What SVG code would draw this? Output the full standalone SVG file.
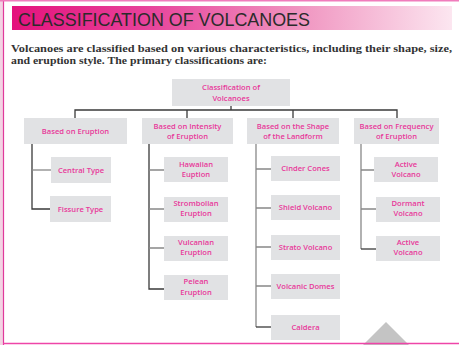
<svg xmlns="http://www.w3.org/2000/svg" width="459" height="345" viewBox="0 0 459 345">
<defs>
<linearGradient id="tg" x1="0" y1="0" x2="1" y2="0">
<stop offset="0" stop-color="#e4127c"/>
<stop offset="0.3" stop-color="#e7419a"/>
<stop offset="0.65" stop-color="#f094c0"/>
<stop offset="1" stop-color="#fce6f0"/>
</linearGradient>
<style>
.box{fill:#e1e2e4}
.t{font-family:"Open Sans","Liberation Sans",sans-serif;font-size:7.6px;font-weight:600;fill:#e8389a;text-anchor:middle}
.ln{fill:none;stroke:#3a3a3a;stroke-width:1.3}
.st{fill:none;stroke:#888;stroke-width:1.3}
</style>
</defs>
<rect x="0" y="0" width="459" height="345" fill="#fff"/>
<rect x="0" y="0" width="3" height="345" fill="#f3d3e3"/>
<line x1="3.5" y1="0" x2="3.5" y2="345" stroke="#e0399b" stroke-width="1.2"/>
<line x1="0" y1="0.8" x2="459" y2="0.8" stroke="#f07cbc" stroke-width="1.5"/>
<polygon points="386,322 409,345 386,368 363,345" fill="#c4c4c4"/>
<line x1="3" y1="343.5" x2="459" y2="343.5" stroke="#ee45a8" stroke-width="1.4"/>
<rect x="12" y="6" width="440" height="24" fill="url(#tg)"/>
<text x="18" y="25.5" font-family="Liberation Sans, sans-serif" font-size="18.5" fill="#2b2b2b" textLength="292" lengthAdjust="spacingAndGlyphs">CLASSIFICATION OF VOLCANOES</text>
<text x="11" y="52" font-family="Liberation Serif, serif" font-weight="bold" font-size="10.5" fill="#333" textLength="441" lengthAdjust="spacingAndGlyphs">Volcanoes are classified based on various characteristics, including their shape, size,</text>
<text x="11" y="64" font-family="Liberation Serif, serif" font-weight="bold" font-size="10.5" fill="#333" textLength="256" lengthAdjust="spacingAndGlyphs">and eruption style. The primary classifications are:</text>
<g id="connectors">
<path class="ln" d="M231,106V110M75,118V110H397V118M187,110V118M293,110V118"/>
<path class="ln" d="M32,144V209H50"/>
<path class="st" d="M32,170H51"/>
<path class="ln" d="M149,144V289H164"/>
<path class="st" d="M149,170H164M149,209H164M149,248H164"/>
<path class="st" d="M256,144V327"/>
<path class="ln" d="M256,327H271"/>
<path class="st" d="M256,169H271M256,208H271M256,247H271M256,286H271"/>
<path class="st" d="M361,144V249"/>
<path class="ln" d="M361,249H376"/>
<path class="st" d="M361,170H374M361,209H376"/>
</g>
<g id="root"><rect class="box" x="172" y="79" width="118" height="27"/><text class="t" x="231" y="90">Classification of</text><text class="t" x="231" y="100.5">Volcanoes</text></g>
<g id="eruption"><rect class="box" x="24" y="118" width="103" height="26"/><text class="t" x="75.5" y="133.5">Based  on  Eruption</text></g>
<g id="intensity"><rect class="box" x="142" y="118" width="91" height="26"/><text class="t" x="187.5" y="128.5">Based on Intensity</text><text class="t" x="187.5" y="138.5">of Eruption</text></g>
<g id="shape"><rect class="box" x="247" y="118" width="92" height="26"/><text class="t" x="293" y="128.5">Based on the Shape</text><text class="t" x="293" y="138.5">of the Landform</text></g>
<g id="frequency"><rect class="box" x="354" y="118" width="85" height="26"/><text class="t" x="396.5" y="128.5">Based on Frequency</text><text class="t" x="396.5" y="138.5">of Eruption</text></g>
<g id="central"><rect class="box" x="51" y="157" width="60" height="26"/><text class="t" x="81" y="172.5">Central Type</text></g>
<g id="fissure"><rect class="box" x="50" y="196" width="61" height="26"/><text class="t" x="80.5" y="211.5">Fissure Type</text></g>
<g id="hawaiian"><rect class="box" x="164" y="157" width="64" height="25"/><text class="t" x="196" y="167">Hawaiian</text><text class="t" x="196" y="177">Euption</text></g>
<g id="strombolian"><rect class="box" x="164" y="197" width="64" height="25"/><text class="t" x="196" y="206">Strombolian</text><text class="t" x="196" y="216">Eruption</text></g>
<g id="vulcanian"><rect class="box" x="164" y="236" width="64" height="25"/><text class="t" x="196" y="245">Vulcanian</text><text class="t" x="196" y="255">Eruption</text></g>
<g id="pelean"><rect class="box" x="164" y="275" width="64" height="25"/><text class="t" x="196" y="284">Pelean</text><text class="t" x="196" y="295">Eruption</text></g>
<g id="cinder"><rect class="box" x="271" y="156" width="69" height="25"/><text class="t" x="305.5" y="171">Cinder Cones</text></g>
<g id="shield"><rect class="box" x="271" y="195" width="69" height="25"/><text class="t" x="305.5" y="210">Shield Volcano</text></g>
<g id="strato"><rect class="box" x="271" y="235" width="69" height="25"/><text class="t" x="305.5" y="250">Strato Volcano</text></g>
<g id="domes"><rect class="box" x="271" y="274" width="69" height="25"/><text class="t" x="305.5" y="289">Volcanic Domes</text></g>
<g id="caldera"><rect class="box" x="271" y="315" width="69" height="25"/><text class="t" x="305.5" y="330">Caldera</text></g>
<g id="active1"><rect class="box" x="374" y="157" width="64" height="25"/><text class="t" x="406" y="167">Active</text><text class="t" x="406" y="177">Volcano</text></g>
<g id="dormant"><rect class="box" x="376" y="197" width="64" height="25"/><text class="t" x="408" y="206">Dormant</text><text class="t" x="408" y="216">Volcano</text></g>
<g id="active2"><rect class="box" x="376" y="236" width="64" height="25"/><text class="t" x="408" y="245">Active</text><text class="t" x="408" y="255">Volcano</text></g>
</svg>
